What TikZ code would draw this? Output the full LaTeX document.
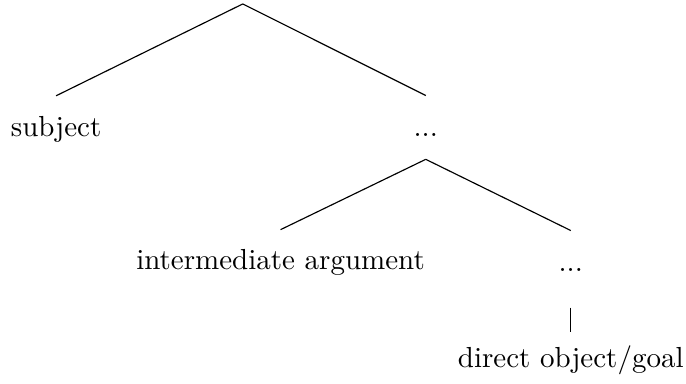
\documentclass[tikz,border=0pt]{standalone}
\begin{document}
\begin{tikzpicture}[
  cat/.style={inner sep=0pt, anchor=base, text height=14pt, text depth=0pt},
  branch/.style={line width=0.4pt}
]
\useasboundingbox (0,0) rectangle (8.314,-4.642);

% top
\node[inner sep=0pt] (root) at (2.942,-0.048) {};

% first level
\node[cat] (subj)  at (0.680,-1.660) {subject};
\node[cat, text depth=7.6pt] (dots1) at (5.160,-1.657) {...};

% second level
\node[cat, text height=13.7pt] (inter) at (3.400,-3.272) {intermediate argument};
\node[cat, text depth=12.2pt]  (dots2) at (6.917,-3.293) {...};

% third level
\node[cat, text height=12.3pt] (dobj) at (6.917,-4.460) {direct object/goal};

% branches
\draw[branch] (root.center) -- (subj.north);
\draw[branch] (root.center) -- (dots1.north);
\draw[branch] (dots1.south) -- (inter.north);
\draw[branch] (dots1.south) -- (dots2.north);
\draw[branch] (dots2.south) -- (dobj.north);

\end{tikzpicture}
\end{document}
